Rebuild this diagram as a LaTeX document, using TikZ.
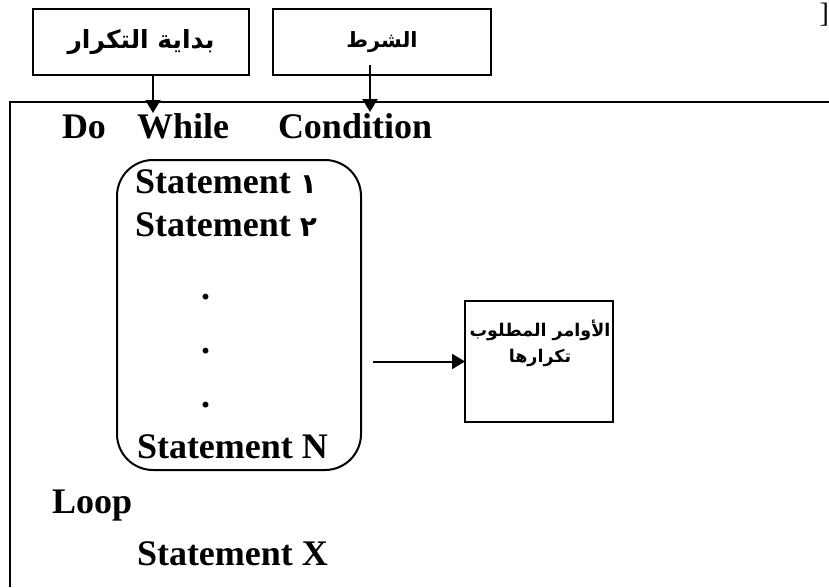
\documentclass[tikz,border=0pt]{standalone}
\usepackage{fontspec}
\setmainfont{Liberation Serif}
\newfontfamily\arabicfont[Script=Arabic]{DejaVu Sans}
\newcommand\arabicdigitfont{\arabicfont\bfseries\fontsize{28}{30}\selectfont}
\TeXXeTstate=1
\usetikzlibrary{arrows.meta,calc}

\begin{document}
\begin{tikzpicture}[x=1pt,y=-1pt,
  every node/.style={inner sep=0pt, outer sep=0pt},
  code/.style={font=\fontsize{36}{40}\selectfont\bfseries, anchor=base west},
  lbl/.style={draw, line width=2pt, anchor=north west},
  link/.style={line width=2pt, -{Triangle[length=13pt,width=15pt]}},
  frame/.style={line width=2pt}]
\useasboundingbox (0,0) rectangle (829,587);

% stray mark in the upper right corner
\node[font=\fontsize{28}{30}\selectfont, anchor=north east] (mark) at (829,3) {]};

% label boxes above the code
\node[lbl, minimum width=216pt, minimum height=66pt,
      font=\arabicfont\bfseries\fontsize{25}{28}\selectfont] (start) at (33,9)
  {\beginR بداية التكرار\endR};
\node[lbl, minimum width=218pt, minimum height=66pt,
      font=\arabicfont\bfseries\fontsize{21}{24}\selectfont] (cond) at (273,9)
  {\beginR الشرط\endR};

% frame around the code (top and left sides)
\coordinate (frameTR) at (829,102);
\coordinate (frameTL) at (10,102);
\coordinate (frameBL) at (10,587);
\draw[frame] (frameTR) -- (frameTL) -- (frameBL);

% arrows from the labels to the keywords
\coordinate (doTip) at (153,113);
\coordinate (condTip) at (370,112);
\draw[link] (start.south -| doTip) -- (doTip);
\draw[link] ($(cond.south -| condTip)+(0,-10)$) -- (condTip);

% header line
\node[code] (kwDo) at (62,138) {Do};
\node[code] (kwWhile) at (137,138) {While};
\node[code] (kwCond) at (278,138) {Condition};

% loop body
\node[draw, line width=2pt, rounded corners=36pt, anchor=north west,
      minimum width=244pt, minimum height=310pt] (body) at (117,160) {};
\node[code] (st1) at (135,193) {Statement {\arabicdigitfont ١}};
\node[code] (st2) at (135,236) {Statement {\arabicdigitfont ٢}};
\node[code] (dot1) at (201,299) {.};
\node[code] (dot2) at (201,353) {.};
\node[code] (dot3) at (201,407) {.};
\node[code] (stN) at (137,458) {Statement N};

% statements to repeat
\node[draw, line width=2pt, anchor=north west,
      minimum width=148pt, minimum height=121pt] (rep) at (465,301) {};
\node[font=\arabicfont\bfseries\fontsize{17.5}{26}\selectfont, align=center]
  (reptxt) at (540,343) {\beginR الأوامر المطلوب\endR\\\beginR تكرارها\endR};
\draw[link] ($(body.east |- rep.west)+(12,0)$) -- (rep.west);

% loop end
\node[code] (kwLoop) at (52,513) {Loop};
\node[code] (stX) at (137,565) {Statement X};
\end{tikzpicture}
\end{document}
